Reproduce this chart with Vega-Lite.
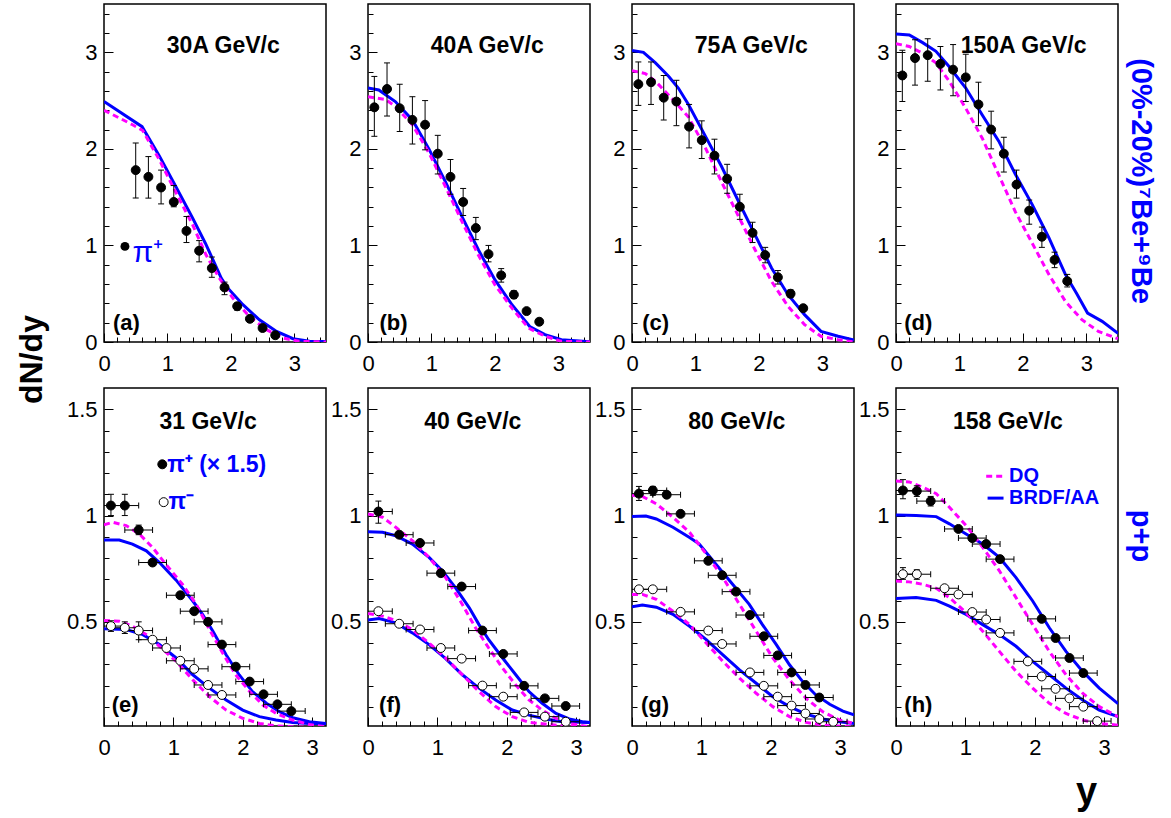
{
"$schema":"https://vega.github.io/schema/vega-lite/v6.json",
"padding":{"left":15,"top":3,"right":5,"bottom":5},
"title":{"text":"dN/dy","orient":"left","anchor":"middle","frame":"bounds","fontSize":32,"fontWeight":"bold","color":"black","offset":17,"dx":48},
"bounds":"flush",
"columns":4,
"spacing":{"row":46,"column":42},
"datasets":{
"pts":[
{"p":"a","s":"pip","x":0.5,"y":1.78,"ylo":1.49,"yhi":2.06},{"p":"a","s":"pip","x":0.7,"y":1.71,"ylo":1.49,"yhi":1.92},{"p":"a","s":"pip","x":0.9,"y":1.6,"ylo":1.43,"yhi":1.78},{"p":"a","s":"pip","x":1.1,"y":1.45,"ylo":1.4,"yhi":1.62},{"p":"a","s":"pip","x":1.3,"y":1.15,"ylo":1.03,"yhi":1.3},{"p":"a","s":"pip","x":1.5,"y":0.945,"ylo":0.83,"yhi":1.05},{"p":"a","s":"pip","x":1.7,"y":0.765,"ylo":0.67,"yhi":0.88},{"p":"a","s":"pip","x":1.9,"y":0.565,"ylo":0.49,"yhi":0.62},{"p":"a","s":"pip","x":2.1,"y":0.37,"ylo":0.33,"yhi":0.4},{"p":"a","s":"pip","x":2.3,"y":0.24,"ylo":0.22,"yhi":0.26},{"p":"a","s":"pip","x":2.5,"y":0.145,"ylo":0.13,"yhi":0.16},{"p":"a","s":"pip","x":2.7,"y":0.07,"ylo":0.06,"yhi":0.08},
{"p":"b","s":"pip","x":0.1,"y":2.43,"ylo":2.13,"yhi":2.75},{"p":"b","s":"pip","x":0.3,"y":2.62,"ylo":2.34,"yhi":2.89},{"p":"b","s":"pip","x":0.5,"y":2.42,"ylo":2.18,"yhi":2.67},{"p":"b","s":"pip","x":0.7,"y":2.3,"ylo":2.05,"yhi":2.54},{"p":"b","s":"pip","x":0.9,"y":2.25,"ylo":1.99,"yhi":2.5},{"p":"b","s":"pip","x":1.1,"y":1.95,"ylo":1.74,"yhi":2.14},{"p":"b","s":"pip","x":1.3,"y":1.71,"ylo":1.53,"yhi":1.89},{"p":"b","s":"pip","x":1.5,"y":1.45,"ylo":1.31,"yhi":1.59},{"p":"b","s":"pip","x":1.7,"y":1.18,"ylo":1.06,"yhi":1.29},{"p":"b","s":"pip","x":1.9,"y":0.91,"ylo":0.83,"yhi":1.0},{"p":"b","s":"pip","x":2.1,"y":0.69,"ylo":0.62,"yhi":0.76},{"p":"b","s":"pip","x":2.3,"y":0.49,"ylo":0.45,"yhi":0.53},{"p":"b","s":"pip","x":2.5,"y":0.32,"ylo":0.3,"yhi":0.34},{"p":"b","s":"pip","x":2.7,"y":0.21,"ylo":0.2,"yhi":0.22},
{"p":"c","s":"pip","x":0.1,"y":2.67,"ylo":2.45,"yhi":2.9},{"p":"c","s":"pip","x":0.3,"y":2.69,"ylo":2.46,"yhi":2.9},{"p":"c","s":"pip","x":0.5,"y":2.53,"ylo":2.3,"yhi":2.76},{"p":"c","s":"pip","x":0.7,"y":2.49,"ylo":2.24,"yhi":2.71},{"p":"c","s":"pip","x":0.9,"y":2.23,"ylo":2.01,"yhi":2.46},{"p":"c","s":"pip","x":1.1,"y":2.09,"ylo":1.9,"yhi":2.29},{"p":"c","s":"pip","x":1.3,"y":1.93,"ylo":1.74,"yhi":2.1},{"p":"c","s":"pip","x":1.5,"y":1.69,"ylo":1.54,"yhi":1.84},{"p":"c","s":"pip","x":1.7,"y":1.4,"ylo":1.27,"yhi":1.53},{"p":"c","s":"pip","x":1.9,"y":1.13,"ylo":1.03,"yhi":1.24},{"p":"c","s":"pip","x":2.1,"y":0.9,"ylo":0.82,"yhi":0.98},{"p":"c","s":"pip","x":2.3,"y":0.67,"ylo":0.6,"yhi":0.74},{"p":"c","s":"pip","x":2.5,"y":0.5,"ylo":0.46,"yhi":0.54},{"p":"c","s":"pip","x":2.7,"y":0.35,"ylo":0.33,"yhi":0.37},
{"p":"d","s":"pip","x":0.1,"y":2.76,"ylo":2.49,"yhi":3.02},{"p":"d","s":"pip","x":0.3,"y":2.94,"ylo":2.66,"yhi":3.13},{"p":"d","s":"pip","x":0.5,"y":2.97,"ylo":2.7,"yhi":3.14},{"p":"d","s":"pip","x":0.7,"y":2.88,"ylo":2.61,"yhi":3.06},{"p":"d","s":"pip","x":0.9,"y":2.82,"ylo":2.55,"yhi":3.08},{"p":"d","s":"pip","x":1.1,"y":2.74,"ylo":2.49,"yhi":2.98},{"p":"d","s":"pip","x":1.3,"y":2.46,"ylo":2.24,"yhi":2.69},{"p":"d","s":"pip","x":1.5,"y":2.2,"ylo":2.0,"yhi":2.39},{"p":"d","s":"pip","x":1.7,"y":1.95,"ylo":1.76,"yhi":2.12},{"p":"d","s":"pip","x":1.9,"y":1.63,"ylo":1.49,"yhi":1.78},{"p":"d","s":"pip","x":2.1,"y":1.36,"ylo":1.22,"yhi":1.47},{"p":"d","s":"pip","x":2.3,"y":1.09,"ylo":0.98,"yhi":1.19},{"p":"d","s":"pip","x":2.5,"y":0.85,"ylo":0.77,"yhi":0.93},{"p":"d","s":"pip","x":2.7,"y":0.63,"ylo":0.57,"yhi":0.7},
{"p":"e","s":"pip","x":0.1,"y":1.047,"xlo":-0.1,"xhi":0.3,"ylo":1.0,"yhi":1.1},{"p":"e","s":"pip","x":0.3,"y":1.047,"xlo":0.1,"xhi":0.5,"ylo":1.0,"yhi":1.1},{"p":"e","s":"pip","x":0.5,"y":0.932,"xlo":0.3,"xhi":0.7,"ylo":0.91,"yhi":0.955},{"p":"e","s":"pip","x":0.7,"y":0.779,"xlo":0.5,"xhi":0.9},{"p":"e","s":"pip","x":1.1,"y":0.625,"xlo":0.9,"xhi":1.3},{"p":"e","s":"pip","x":1.3,"y":0.55,"xlo":1.1,"xhi":1.5},{"p":"e","s":"pip","x":1.5,"y":0.5,"xlo":1.3,"xhi":1.7},{"p":"e","s":"pip","x":1.7,"y":0.393,"xlo":1.5,"xhi":1.9},{"p":"e","s":"pip","x":1.9,"y":0.289,"xlo":1.7,"xhi":2.1},{"p":"e","s":"pip","x":2.1,"y":0.219,"xlo":1.9,"xhi":2.3},{"p":"e","s":"pip","x":2.3,"y":0.159,"xlo":2.1,"xhi":2.5},{"p":"e","s":"pip","x":2.5,"y":0.112,"xlo":2.3,"xhi":2.7},{"p":"e","s":"pip","x":2.7,"y":0.08,"xlo":2.5,"xhi":2.9},
{"p":"e","s":"pim","x":0.1,"y":0.48,"xlo":-0.1,"xhi":0.3,"ylo":0.455,"yhi":0.505},{"p":"e","s":"pim","x":0.3,"y":0.472,"xlo":0.1,"xhi":0.5,"ylo":0.445,"yhi":0.5},{"p":"e","s":"pim","x":0.5,"y":0.459,"xlo":0.3,"xhi":0.7,"ylo":0.416,"yhi":0.5},{"p":"e","s":"pim","x":0.7,"y":0.416,"xlo":0.5,"xhi":0.9},{"p":"e","s":"pim","x":0.9,"y":0.377,"xlo":0.7,"xhi":1.1},{"p":"e","s":"pim","x":1.1,"y":0.317,"xlo":0.9,"xhi":1.3},{"p":"e","s":"pim","x":1.3,"y":0.279,"xlo":1.1,"xhi":1.5},{"p":"e","s":"pim","x":1.5,"y":0.203,"xlo":1.3,"xhi":1.7},{"p":"e","s":"pim","x":1.7,"y":0.156,"xlo":1.5,"xhi":1.9},
{"p":"f","s":"pip","x":0.15,"y":1.019,"xlo":-0.05,"xhi":0.35,"ylo":0.964,"yhi":1.068},{"p":"f","s":"pip","x":0.45,"y":0.91,"xlo":0.25,"xhi":0.65},{"p":"f","s":"pip","x":0.75,"y":0.871,"xlo":0.55,"xhi":0.95},{"p":"f","s":"pip","x":1.05,"y":0.729,"xlo":0.85,"xhi":1.25},{"p":"f","s":"pip","x":1.35,"y":0.666,"xlo":1.15,"xhi":1.55},{"p":"f","s":"pip","x":1.65,"y":0.459,"xlo":1.45,"xhi":1.85},{"p":"f","s":"pip","x":1.95,"y":0.349,"xlo":1.75,"xhi":2.15},{"p":"f","s":"pip","x":2.25,"y":0.199,"xlo":2.05,"xhi":2.45},{"p":"f","s":"pip","x":2.55,"y":0.14,"xlo":2.35,"xhi":2.75},{"p":"f","s":"pip","x":2.85,"y":0.104,"xlo":2.65,"xhi":3.05},
{"p":"f","s":"pim","x":0.15,"y":0.55,"xlo":-0.05,"xhi":0.35},{"p":"f","s":"pim","x":0.45,"y":0.491,"xlo":0.25,"xhi":0.65},{"p":"f","s":"pim","x":0.75,"y":0.464,"xlo":0.55,"xhi":0.95},{"p":"f","s":"pim","x":1.05,"y":0.377,"xlo":0.85,"xhi":1.25},{"p":"f","s":"pim","x":1.35,"y":0.327,"xlo":1.15,"xhi":1.55},{"p":"f","s":"pim","x":1.65,"y":0.2,"xlo":1.45,"xhi":1.85},{"p":"f","s":"pim","x":1.95,"y":0.148,"xlo":1.75,"xhi":2.15},{"p":"f","s":"pim","x":2.25,"y":0.074,"xlo":2.05,"xhi":2.45},{"p":"f","s":"pim","x":2.55,"y":0.054,"xlo":2.35,"xhi":2.75},{"p":"f","s":"pim","x":2.85,"y":0.03,"xlo":2.65,"xhi":3.05},
{"p":"g","s":"pip","x":0.1,"y":1.103,"xlo":-0.1,"xhi":0.3,"ylo":1.071,"yhi":1.137},{"p":"g","s":"pip","x":0.3,"y":1.118,"xlo":0.1,"xhi":0.5,"ylo":1.095,"yhi":1.137},{"p":"g","s":"pip","x":0.5,"y":1.098,"xlo":0.3,"xhi":0.7},{"p":"g","s":"pip","x":0.7,"y":1.008,"xlo":0.5,"xhi":0.9},{"p":"g","s":"pip","x":1.1,"y":0.787,"xlo":0.9,"xhi":1.3},{"p":"g","s":"pip","x":1.3,"y":0.719,"xlo":1.1,"xhi":1.5},{"p":"g","s":"pip","x":1.5,"y":0.642,"xlo":1.3,"xhi":1.7},{"p":"g","s":"pip","x":1.7,"y":0.532,"xlo":1.5,"xhi":1.9},{"p":"g","s":"pip","x":1.9,"y":0.432,"xlo":1.7,"xhi":2.1},{"p":"g","s":"pip","x":2.1,"y":0.342,"xlo":1.9,"xhi":2.3},{"p":"g","s":"pip","x":2.3,"y":0.262,"xlo":2.1,"xhi":2.5},{"p":"g","s":"pip","x":2.5,"y":0.203,"xlo":2.3,"xhi":2.7},{"p":"g","s":"pip","x":2.7,"y":0.144,"xlo":2.5,"xhi":2.9},
{"p":"g","s":"pim","x":0.1,"y":0.653,"xlo":-0.1,"xhi":0.3},{"p":"g","s":"pim","x":0.3,"y":0.653,"xlo":0.1,"xhi":0.5},{"p":"g","s":"pim","x":0.7,"y":0.547,"xlo":0.5,"xhi":0.9},{"p":"g","s":"pim","x":1.1,"y":0.459,"xlo":0.9,"xhi":1.3},{"p":"g","s":"pim","x":1.3,"y":0.396,"xlo":1.1,"xhi":1.5},{"p":"g","s":"pim","x":1.7,"y":0.262,"xlo":1.5,"xhi":1.9},{"p":"g","s":"pim","x":1.9,"y":0.199,"xlo":1.7,"xhi":2.1},{"p":"g","s":"pim","x":2.1,"y":0.148,"xlo":1.9,"xhi":2.3},{"p":"g","s":"pim","x":2.3,"y":0.106,"xlo":2.1,"xhi":2.5},{"p":"g","s":"pim","x":2.5,"y":0.069,"xlo":2.3,"xhi":2.7},{"p":"g","s":"pim","x":2.7,"y":0.043,"xlo":2.5,"xhi":2.9},{"p":"g","s":"pim","x":2.9,"y":0.03,"xlo":2.7,"xhi":3.1},
{"p":"h","s":"pip","x":0.1,"y":1.118,"xlo":-0.1,"xhi":0.3,"ylo":1.079,"yhi":1.169},{"p":"h","s":"pip","x":0.3,"y":1.115,"xlo":0.1,"xhi":0.5,"ylo":1.09,"yhi":1.14},{"p":"h","s":"pip","x":0.5,"y":1.068,"xlo":0.3,"xhi":0.7,"ylo":1.045,"yhi":1.09},{"p":"h","s":"pip","x":0.9,"y":0.937,"xlo":0.7,"xhi":1.1},{"p":"h","s":"pip","x":1.1,"y":0.894,"xlo":0.9,"xhi":1.3},{"p":"h","s":"pip","x":1.3,"y":0.866,"xlo":1.1,"xhi":1.5},{"p":"h","s":"pip","x":1.5,"y":0.795,"xlo":1.3,"xhi":1.7},{"p":"h","s":"pip","x":2.1,"y":0.514,"xlo":1.9,"xhi":2.3},{"p":"h","s":"pip","x":2.3,"y":0.424,"xlo":2.1,"xhi":2.5},{"p":"h","s":"pip","x":2.5,"y":0.33,"xlo":2.3,"xhi":2.7},{"p":"h","s":"pip","x":2.7,"y":0.259,"xlo":2.5,"xhi":2.9},
{"p":"h","s":"pim","x":0.1,"y":0.724,"xlo":-0.1,"xhi":0.3,"ylo":0.7,"yhi":0.755},{"p":"h","s":"pim","x":0.3,"y":0.724,"xlo":0.1,"xhi":0.5,"ylo":0.7,"yhi":0.745},{"p":"h","s":"pim","x":0.7,"y":0.658,"xlo":0.5,"xhi":0.9},{"p":"h","s":"pim","x":0.9,"y":0.629,"xlo":0.7,"xhi":1.1},{"p":"h","s":"pim","x":1.1,"y":0.546,"xlo":0.9,"xhi":1.3},{"p":"h","s":"pim","x":1.3,"y":0.511,"xlo":1.1,"xhi":1.5},{"p":"h","s":"pim","x":1.5,"y":0.448,"xlo":1.3,"xhi":1.7},{"p":"h","s":"pim","x":1.9,"y":0.314,"xlo":1.7,"xhi":2.1},{"p":"h","s":"pim","x":2.1,"y":0.243,"xlo":1.9,"xhi":2.3},{"p":"h","s":"pim","x":2.3,"y":0.185,"xlo":2.1,"xhi":2.5},{"p":"h","s":"pim","x":2.5,"y":0.14,"xlo":2.3,"xhi":2.7},{"p":"h","s":"pim","x":2.7,"y":0.101,"xlo":2.5,"xhi":2.9},{"p":"h","s":"pim","x":2.9,"y":0.033,"xlo":2.7,"xhi":3.1}
],
"crv":[
{"p":"a","m":"BR","s":"pip","x":0,"y":2.49},{"p":"a","m":"BR","s":"pip","x":0.6,"y":2.23},{"p":"a","m":"BR","s":"pip","x":0.87,"y":1.93},{"p":"a","m":"BR","s":"pip","x":1.14,"y":1.6},{"p":"a","m":"BR","s":"pip","x":1.4,"y":1.28},{"p":"a","m":"BR","s":"pip","x":1.6,"y":1.02},{"p":"a","m":"BR","s":"pip","x":1.74,"y":0.82},{"p":"a","m":"BR","s":"pip","x":1.85,"y":0.66},{"p":"a","m":"BR","s":"pip","x":1.95,"y":0.56},{"p":"a","m":"BR","s":"pip","x":2.19,"y":0.386},{"p":"a","m":"BR","s":"pip","x":2.45,"y":0.23},{"p":"a","m":"BR","s":"pip","x":2.72,"y":0.11},{"p":"a","m":"BR","s":"pip","x":2.98,"y":0.034},{"p":"a","m":"BR","s":"pip","x":3.24,"y":0.007},{"p":"a","m":"BR","s":"pip","x":3.5,"y":0.005},
{"p":"a","m":"DQ","s":"pip","x":0,"y":2.4},{"p":"a","m":"DQ","s":"pip","x":0.45,"y":2.25},{"p":"a","m":"DQ","s":"pip","x":0.61,"y":2.19},{"p":"a","m":"DQ","s":"pip","x":0.87,"y":1.89},{"p":"a","m":"DQ","s":"pip","x":1.14,"y":1.54},{"p":"a","m":"DQ","s":"pip","x":1.4,"y":1.21},{"p":"a","m":"DQ","s":"pip","x":1.61,"y":0.9},{"p":"a","m":"DQ","s":"pip","x":1.82,"y":0.66},{"p":"a","m":"DQ","s":"pip","x":2.03,"y":0.455},{"p":"a","m":"DQ","s":"pip","x":2.29,"y":0.265},{"p":"a","m":"DQ","s":"pip","x":2.56,"y":0.128},{"p":"a","m":"DQ","s":"pip","x":2.82,"y":0.041},{"p":"a","m":"DQ","s":"pip","x":3.08,"y":0.007},{"p":"a","m":"DQ","s":"pip","x":3.5,"y":0},
{"p":"b","m":"BR","s":"pip","x":0,"y":2.63},{"p":"b","m":"BR","s":"pip","x":0.17,"y":2.61},{"p":"b","m":"BR","s":"pip","x":0.43,"y":2.49},{"p":"b","m":"BR","s":"pip","x":0.7,"y":2.3},{"p":"b","m":"BR","s":"pip","x":0.96,"y":2.0},{"p":"b","m":"BR","s":"pip","x":1.22,"y":1.66},{"p":"b","m":"BR","s":"pip","x":1.48,"y":1.3},{"p":"b","m":"BR","s":"pip","x":1.74,"y":0.955},{"p":"b","m":"BR","s":"pip","x":2.0,"y":0.645},{"p":"b","m":"BR","s":"pip","x":2.27,"y":0.386},{"p":"b","m":"BR","s":"pip","x":2.55,"y":0.16},{"p":"b","m":"BR","s":"pip","x":2.79,"y":0.076},{"p":"b","m":"BR","s":"pip","x":3.05,"y":0.024},{"p":"b","m":"BR","s":"pip","x":3.5,"y":0.003},
{"p":"b","m":"DQ","s":"pip","x":0,"y":2.54},{"p":"b","m":"DQ","s":"pip","x":0.28,"y":2.51},{"p":"b","m":"DQ","s":"pip","x":0.43,"y":2.44},{"p":"b","m":"DQ","s":"pip","x":0.7,"y":2.25},{"p":"b","m":"DQ","s":"pip","x":0.96,"y":1.96},{"p":"b","m":"DQ","s":"pip","x":1.22,"y":1.61},{"p":"b","m":"DQ","s":"pip","x":1.48,"y":1.25},{"p":"b","m":"DQ","s":"pip","x":1.74,"y":0.9},{"p":"b","m":"DQ","s":"pip","x":2.0,"y":0.593},{"p":"b","m":"DQ","s":"pip","x":2.27,"y":0.35},{"p":"b","m":"DQ","s":"pip","x":2.53,"y":0.145},{"p":"b","m":"DQ","s":"pip","x":2.79,"y":0.06},{"p":"b","m":"DQ","s":"pip","x":3.05,"y":0.007},{"p":"b","m":"DQ","s":"pip","x":3.5,"y":0},
{"p":"c","m":"BR","s":"pip","x":0,"y":3.02},{"p":"c","m":"BR","s":"pip","x":0.18,"y":3.0},{"p":"c","m":"BR","s":"pip","x":0.37,"y":2.89},{"p":"c","m":"BR","s":"pip","x":0.58,"y":2.75},{"p":"c","m":"BR","s":"pip","x":0.73,"y":2.63},{"p":"c","m":"BR","s":"pip","x":0.89,"y":2.46},{"p":"c","m":"BR","s":"pip","x":1.15,"y":2.14},{"p":"c","m":"BR","s":"pip","x":1.41,"y":1.82},{"p":"c","m":"BR","s":"pip","x":1.68,"y":1.455},{"p":"c","m":"BR","s":"pip","x":1.94,"y":1.11},{"p":"c","m":"BR","s":"pip","x":2.2,"y":0.766},{"p":"c","m":"BR","s":"pip","x":2.46,"y":0.49},{"p":"c","m":"BR","s":"pip","x":2.72,"y":0.283},{"p":"c","m":"BR","s":"pip","x":2.98,"y":0.11},{"p":"c","m":"BR","s":"pip","x":3.25,"y":0.059},{"p":"c","m":"BR","s":"pip","x":3.5,"y":0.02},
{"p":"c","m":"DQ","s":"pip","x":0,"y":2.81},{"p":"c","m":"DQ","s":"pip","x":0.21,"y":2.78},{"p":"c","m":"DQ","s":"pip","x":0.37,"y":2.7},{"p":"c","m":"DQ","s":"pip","x":0.63,"y":2.52},{"p":"c","m":"DQ","s":"pip","x":0.89,"y":2.33},{"p":"c","m":"DQ","s":"pip","x":1.15,"y":2.02},{"p":"c","m":"DQ","s":"pip","x":1.41,"y":1.66},{"p":"c","m":"DQ","s":"pip","x":1.68,"y":1.3},{"p":"c","m":"DQ","s":"pip","x":1.94,"y":0.955},{"p":"c","m":"DQ","s":"pip","x":2.2,"y":0.628},{"p":"c","m":"DQ","s":"pip","x":2.46,"y":0.369},{"p":"c","m":"DQ","s":"pip","x":2.72,"y":0.18},{"p":"c","m":"DQ","s":"pip","x":2.98,"y":0.059},{"p":"c","m":"DQ","s":"pip","x":3.25,"y":0.024},{"p":"c","m":"DQ","s":"pip","x":3.5,"y":0},
{"p":"d","m":"BR","s":"pip","x":0,"y":3.19},{"p":"d","m":"BR","s":"pip","x":0.21,"y":3.18},{"p":"d","m":"BR","s":"pip","x":0.42,"y":3.1},{"p":"d","m":"BR","s":"pip","x":0.63,"y":3.01},{"p":"d","m":"BR","s":"pip","x":0.84,"y":2.85},{"p":"d","m":"BR","s":"pip","x":1.1,"y":2.63},{"p":"d","m":"BR","s":"pip","x":1.36,"y":2.35},{"p":"d","m":"BR","s":"pip","x":1.62,"y":2.08},{"p":"d","m":"BR","s":"pip","x":1.88,"y":1.74},{"p":"d","m":"BR","s":"pip","x":2.15,"y":1.42},{"p":"d","m":"BR","s":"pip","x":2.41,"y":1.08},{"p":"d","m":"BR","s":"pip","x":2.67,"y":0.7},{"p":"d","m":"BR","s":"pip","x":2.85,"y":0.5},{"p":"d","m":"BR","s":"pip","x":3.02,"y":0.3},{"p":"d","m":"BR","s":"pip","x":3.25,"y":0.214},{"p":"d","m":"BR","s":"pip","x":3.5,"y":0.09},
{"p":"d","m":"DQ","s":"pip","x":0,"y":3.09},{"p":"d","m":"DQ","s":"pip","x":0.21,"y":3.06},{"p":"d","m":"DQ","s":"pip","x":0.42,"y":2.99},{"p":"d","m":"DQ","s":"pip","x":0.63,"y":2.89},{"p":"d","m":"DQ","s":"pip","x":0.84,"y":2.7},{"p":"d","m":"DQ","s":"pip","x":1.1,"y":2.42},{"p":"d","m":"DQ","s":"pip","x":1.36,"y":2.11},{"p":"d","m":"DQ","s":"pip","x":1.62,"y":1.73},{"p":"d","m":"DQ","s":"pip","x":1.88,"y":1.35},{"p":"d","m":"DQ","s":"pip","x":2.15,"y":1.02},{"p":"d","m":"DQ","s":"pip","x":2.41,"y":0.7},{"p":"d","m":"DQ","s":"pip","x":2.67,"y":0.421},{"p":"d","m":"DQ","s":"pip","x":2.93,"y":0.231},{"p":"d","m":"DQ","s":"pip","x":3.19,"y":0.11},{"p":"d","m":"DQ","s":"pip","x":3.5,"y":0.034},
{"p":"e","m":"BR","s":"pip","x":0,"y":0.885},{"p":"e","m":"BR","s":"pip","x":0.22,"y":0.885},{"p":"e","m":"BR","s":"pip","x":0.41,"y":0.866},{"p":"e","m":"BR","s":"pip","x":0.61,"y":0.834},{"p":"e","m":"BR","s":"pip","x":0.8,"y":0.779},{"p":"e","m":"BR","s":"pip","x":1.04,"y":0.696},{"p":"e","m":"BR","s":"pip","x":1.28,"y":0.598},{"p":"e","m":"BR","s":"pip","x":1.42,"y":0.535},{"p":"e","m":"BR","s":"pip","x":1.57,"y":0.456},{"p":"e","m":"BR","s":"pip","x":1.76,"y":0.345},{"p":"e","m":"BR","s":"pip","x":1.95,"y":0.25},{"p":"e","m":"BR","s":"pip","x":2.14,"y":0.172},{"p":"e","m":"BR","s":"pip","x":2.34,"y":0.117},{"p":"e","m":"BR","s":"pip","x":2.53,"y":0.077},{"p":"e","m":"BR","s":"pip","x":2.72,"y":0.049},{"p":"e","m":"BR","s":"pip","x":2.96,"y":0.03},{"p":"e","m":"BR","s":"pip","x":3.2,"y":0.022},
{"p":"e","m":"DQ","s":"pip","x":0,"y":0.957},{"p":"e","m":"DQ","s":"pip","x":0.125,"y":0.968},{"p":"e","m":"DQ","s":"pip","x":0.32,"y":0.953},{"p":"e","m":"DQ","s":"pip","x":0.51,"y":0.913},{"p":"e","m":"DQ","s":"pip","x":0.7,"y":0.85},{"p":"e","m":"DQ","s":"pip","x":0.89,"y":0.771},{"p":"e","m":"DQ","s":"pip","x":1.13,"y":0.677},{"p":"e","m":"DQ","s":"pip","x":1.33,"y":0.582},{"p":"e","m":"DQ","s":"pip","x":1.52,"y":0.464},{"p":"e","m":"DQ","s":"pip","x":1.71,"y":0.353},{"p":"e","m":"DQ","s":"pip","x":1.9,"y":0.25},{"p":"e","m":"DQ","s":"pip","x":2.1,"y":0.172},{"p":"e","m":"DQ","s":"pip","x":2.29,"y":0.109},{"p":"e","m":"DQ","s":"pip","x":2.48,"y":0.069},{"p":"e","m":"DQ","s":"pip","x":2.72,"y":0.038},{"p":"e","m":"DQ","s":"pip","x":2.96,"y":0.017},{"p":"e","m":"DQ","s":"pip","x":3.2,"y":0.006},
{"p":"e","m":"BR","s":"pim","x":0,"y":0.468},{"p":"e","m":"BR","s":"pim","x":0.32,"y":0.464},{"p":"e","m":"BR","s":"pim","x":0.56,"y":0.44},{"p":"e","m":"BR","s":"pim","x":0.8,"y":0.393},{"p":"e","m":"BR","s":"pim","x":1.04,"y":0.33},{"p":"e","m":"BR","s":"pim","x":1.28,"y":0.251},{"p":"e","m":"BR","s":"pim","x":1.52,"y":0.188},{"p":"e","m":"BR","s":"pim","x":1.76,"y":0.132},{"p":"e","m":"BR","s":"pim","x":2.0,"y":0.085},{"p":"e","m":"BR","s":"pim","x":2.24,"y":0.054},{"p":"e","m":"BR","s":"pim","x":2.48,"y":0.038},{"p":"e","m":"BR","s":"pim","x":2.72,"y":0.027},{"p":"e","m":"BR","s":"pim","x":2.96,"y":0.022},{"p":"e","m":"BR","s":"pim","x":3.2,"y":0.022},
{"p":"e","m":"DQ","s":"pim","x":0,"y":0.506},{"p":"e","m":"DQ","s":"pim","x":0.22,"y":0.503},{"p":"e","m":"DQ","s":"pim","x":0.41,"y":0.48},{"p":"e","m":"DQ","s":"pim","x":0.61,"y":0.44},{"p":"e","m":"DQ","s":"pim","x":0.8,"y":0.385},{"p":"e","m":"DQ","s":"pim","x":1.04,"y":0.314},{"p":"e","m":"DQ","s":"pim","x":1.28,"y":0.227},{"p":"e","m":"DQ","s":"pim","x":1.52,"y":0.148},{"p":"e","m":"DQ","s":"pim","x":1.76,"y":0.085},{"p":"e","m":"DQ","s":"pim","x":2.0,"y":0.046},{"p":"e","m":"DQ","s":"pim","x":2.24,"y":0.022},{"p":"e","m":"DQ","s":"pim","x":2.48,"y":0.011},{"p":"e","m":"DQ","s":"pim","x":2.72,"y":0.006},{"p":"e","m":"DQ","s":"pim","x":3.2,"y":0.003},
{"p":"f","m":"BR","s":"pip","x":0,"y":0.924},{"p":"f","m":"BR","s":"pip","x":0.21,"y":0.921},{"p":"f","m":"BR","s":"pip","x":0.4,"y":0.905},{"p":"f","m":"BR","s":"pip","x":0.64,"y":0.866},{"p":"f","m":"BR","s":"pip","x":0.88,"y":0.803},{"p":"f","m":"BR","s":"pip","x":1.07,"y":0.74},{"p":"f","m":"BR","s":"pip","x":1.26,"y":0.661},{"p":"f","m":"BR","s":"pip","x":1.46,"y":0.566},{"p":"f","m":"BR","s":"pip","x":1.6,"y":0.487},{"p":"f","m":"BR","s":"pip","x":1.74,"y":0.416},{"p":"f","m":"BR","s":"pip","x":1.94,"y":0.33},{"p":"f","m":"BR","s":"pip","x":2.13,"y":0.251},{"p":"f","m":"BR","s":"pip","x":2.32,"y":0.172},{"p":"f","m":"BR","s":"pip","x":2.51,"y":0.117},{"p":"f","m":"BR","s":"pip","x":2.71,"y":0.069},{"p":"f","m":"BR","s":"pip","x":2.9,"y":0.043},{"p":"f","m":"BR","s":"pip","x":3.09,"y":0.03},{"p":"f","m":"BR","s":"pip","x":3.2,"y":0.027},
{"p":"f","m":"DQ","s":"pip","x":0,"y":1.008},{"p":"f","m":"DQ","s":"pip","x":0.21,"y":0.992},{"p":"f","m":"DQ","s":"pip","x":0.4,"y":0.945},{"p":"f","m":"DQ","s":"pip","x":0.64,"y":0.882},{"p":"f","m":"DQ","s":"pip","x":0.88,"y":0.803},{"p":"f","m":"DQ","s":"pip","x":1.12,"y":0.708},{"p":"f","m":"DQ","s":"pip","x":1.36,"y":0.582},{"p":"f","m":"DQ","s":"pip","x":1.55,"y":0.472},{"p":"f","m":"DQ","s":"pip","x":1.74,"y":0.377},{"p":"f","m":"DQ","s":"pip","x":1.94,"y":0.282},{"p":"f","m":"DQ","s":"pip","x":2.13,"y":0.203},{"p":"f","m":"DQ","s":"pip","x":2.32,"y":0.133},{"p":"f","m":"DQ","s":"pip","x":2.51,"y":0.085},{"p":"f","m":"DQ","s":"pip","x":2.71,"y":0.046},{"p":"f","m":"DQ","s":"pip","x":2.9,"y":0.022},{"p":"f","m":"DQ","s":"pip","x":3.2,"y":0.006},
{"p":"f","m":"BR","s":"pim","x":0,"y":0.508},{"p":"f","m":"BR","s":"pim","x":0.16,"y":0.516},{"p":"f","m":"BR","s":"pim","x":0.4,"y":0.495},{"p":"f","m":"BR","s":"pim","x":0.64,"y":0.448},{"p":"f","m":"BR","s":"pim","x":0.88,"y":0.393},{"p":"f","m":"BR","s":"pim","x":1.12,"y":0.327},{"p":"f","m":"BR","s":"pim","x":1.36,"y":0.251},{"p":"f","m":"BR","s":"pim","x":1.6,"y":0.188},{"p":"f","m":"BR","s":"pim","x":1.84,"y":0.132},{"p":"f","m":"BR","s":"pim","x":2.08,"y":0.085},{"p":"f","m":"BR","s":"pim","x":2.32,"y":0.061},{"p":"f","m":"BR","s":"pim","x":2.56,"y":0.043},{"p":"f","m":"BR","s":"pim","x":2.8,"y":0.03},{"p":"f","m":"BR","s":"pim","x":3.2,"y":0.027},
{"p":"f","m":"DQ","s":"pim","x":0,"y":0.539},{"p":"f","m":"DQ","s":"pim","x":0.21,"y":0.527},{"p":"f","m":"DQ","s":"pim","x":0.4,"y":0.506},{"p":"f","m":"DQ","s":"pim","x":0.64,"y":0.464},{"p":"f","m":"DQ","s":"pim","x":0.88,"y":0.4},{"p":"f","m":"DQ","s":"pim","x":1.12,"y":0.33},{"p":"f","m":"DQ","s":"pim","x":1.36,"y":0.251},{"p":"f","m":"DQ","s":"pim","x":1.6,"y":0.172},{"p":"f","m":"DQ","s":"pim","x":1.84,"y":0.101},{"p":"f","m":"DQ","s":"pim","x":2.08,"y":0.054},{"p":"f","m":"DQ","s":"pim","x":2.32,"y":0.027},{"p":"f","m":"DQ","s":"pim","x":2.8,"y":0.011},{"p":"f","m":"DQ","s":"pim","x":3.2,"y":0.006},
{"p":"g","m":"BR","s":"pip","x":0,"y":0.995},{"p":"g","m":"BR","s":"pip","x":0.2,"y":0.998},{"p":"g","m":"BR","s":"pip","x":0.35,"y":0.984},{"p":"g","m":"BR","s":"pip","x":0.59,"y":0.945},{"p":"g","m":"BR","s":"pip","x":0.83,"y":0.897},{"p":"g","m":"BR","s":"pip","x":0.97,"y":0.866},{"p":"g","m":"BR","s":"pip","x":1.21,"y":0.771},{"p":"g","m":"BR","s":"pip","x":1.45,"y":0.677},{"p":"g","m":"BR","s":"pip","x":1.69,"y":0.582},{"p":"g","m":"BR","s":"pip","x":1.88,"y":0.487},{"p":"g","m":"BR","s":"pip","x":2.08,"y":0.393},{"p":"g","m":"BR","s":"pip","x":2.27,"y":0.298},{"p":"g","m":"BR","s":"pip","x":2.46,"y":0.219},{"p":"g","m":"BR","s":"pip","x":2.65,"y":0.156},{"p":"g","m":"BR","s":"pip","x":2.85,"y":0.112},{"p":"g","m":"BR","s":"pip","x":3.04,"y":0.08},{"p":"g","m":"BR","s":"pip","x":3.2,"y":0.062},
{"p":"g","m":"DQ","s":"pip","x":0,"y":1.095},{"p":"g","m":"DQ","s":"pip","x":0.15,"y":1.09},{"p":"g","m":"DQ","s":"pip","x":0.35,"y":1.055},{"p":"g","m":"DQ","s":"pip","x":0.59,"y":0.992},{"p":"g","m":"DQ","s":"pip","x":0.83,"y":0.921},{"p":"g","m":"DQ","s":"pip","x":1.07,"y":0.819},{"p":"g","m":"DQ","s":"pip","x":1.31,"y":0.708},{"p":"g","m":"DQ","s":"pip","x":1.55,"y":0.582},{"p":"g","m":"DQ","s":"pip","x":1.79,"y":0.456},{"p":"g","m":"DQ","s":"pip","x":2.03,"y":0.33},{"p":"g","m":"DQ","s":"pip","x":2.27,"y":0.227},{"p":"g","m":"DQ","s":"pip","x":2.51,"y":0.14},{"p":"g","m":"DQ","s":"pip","x":2.75,"y":0.077},{"p":"g","m":"DQ","s":"pip","x":2.99,"y":0.038},{"p":"g","m":"DQ","s":"pip","x":3.2,"y":0.022},
{"p":"g","m":"BR","s":"pim","x":0,"y":0.571},{"p":"g","m":"BR","s":"pim","x":0.15,"y":0.579},{"p":"g","m":"BR","s":"pim","x":0.35,"y":0.569},{"p":"g","m":"BR","s":"pim","x":0.59,"y":0.535},{"p":"g","m":"BR","s":"pim","x":0.83,"y":0.479},{"p":"g","m":"BR","s":"pim","x":1.07,"y":0.416},{"p":"g","m":"BR","s":"pim","x":1.31,"y":0.345},{"p":"g","m":"BR","s":"pim","x":1.55,"y":0.274},{"p":"g","m":"BR","s":"pim","x":1.79,"y":0.211},{"p":"g","m":"BR","s":"pim","x":2.03,"y":0.148},{"p":"g","m":"BR","s":"pim","x":2.27,"y":0.101},{"p":"g","m":"BR","s":"pim","x":2.51,"y":0.066},{"p":"g","m":"BR","s":"pim","x":2.75,"y":0.043},{"p":"g","m":"BR","s":"pim","x":2.99,"y":0.03},{"p":"g","m":"BR","s":"pim","x":3.2,"y":0.022},
{"p":"g","m":"DQ","s":"pim","x":0,"y":0.629},{"p":"g","m":"DQ","s":"pim","x":0.15,"y":0.629},{"p":"g","m":"DQ","s":"pim","x":0.35,"y":0.606},{"p":"g","m":"DQ","s":"pim","x":0.59,"y":0.55},{"p":"g","m":"DQ","s":"pim","x":0.83,"y":0.487},{"p":"g","m":"DQ","s":"pim","x":1.07,"y":0.4},{"p":"g","m":"DQ","s":"pim","x":1.31,"y":0.314},{"p":"g","m":"DQ","s":"pim","x":1.55,"y":0.235},{"p":"g","m":"DQ","s":"pim","x":1.79,"y":0.164},{"p":"g","m":"DQ","s":"pim","x":2.03,"y":0.101},{"p":"g","m":"DQ","s":"pim","x":2.27,"y":0.054},{"p":"g","m":"DQ","s":"pim","x":2.51,"y":0.027},{"p":"g","m":"DQ","s":"pim","x":2.75,"y":0.014},{"p":"g","m":"DQ","s":"pim","x":3.2,"y":0.006},
{"p":"h","m":"BR","s":"pip","x":0,"y":1.003},{"p":"h","m":"BR","s":"pip","x":0.29,"y":1.0},{"p":"h","m":"BR","s":"pip","x":0.58,"y":0.995},{"p":"h","m":"BR","s":"pip","x":0.77,"y":0.961},{"p":"h","m":"BR","s":"pip","x":1.01,"y":0.913},{"p":"h","m":"BR","s":"pip","x":1.25,"y":0.866},{"p":"h","m":"BR","s":"pip","x":1.49,"y":0.803},{"p":"h","m":"BR","s":"pip","x":1.73,"y":0.708},{"p":"h","m":"BR","s":"pip","x":1.97,"y":0.598},{"p":"h","m":"BR","s":"pip","x":2.21,"y":0.472},{"p":"h","m":"BR","s":"pip","x":2.45,"y":0.361},{"p":"h","m":"BR","s":"pip","x":2.69,"y":0.267},{"p":"h","m":"BR","s":"pip","x":2.93,"y":0.188},{"p":"h","m":"BR","s":"pip","x":3.2,"y":0.115},
{"p":"h","m":"DQ","s":"pip","x":0,"y":1.162},{"p":"h","m":"DQ","s":"pip","x":0.19,"y":1.158},{"p":"h","m":"DQ","s":"pip","x":0.38,"y":1.134},{"p":"h","m":"DQ","s":"pip","x":0.58,"y":1.103},{"p":"h","m":"DQ","s":"pip","x":0.77,"y":1.039},{"p":"h","m":"DQ","s":"pip","x":1.01,"y":0.953},{"p":"h","m":"DQ","s":"pip","x":1.25,"y":0.85},{"p":"h","m":"DQ","s":"pip","x":1.49,"y":0.74},{"p":"h","m":"DQ","s":"pip","x":1.73,"y":0.614},{"p":"h","m":"DQ","s":"pip","x":1.97,"y":0.487},{"p":"h","m":"DQ","s":"pip","x":2.21,"y":0.361},{"p":"h","m":"DQ","s":"pip","x":2.45,"y":0.251},{"p":"h","m":"DQ","s":"pip","x":2.69,"y":0.164},{"p":"h","m":"DQ","s":"pip","x":2.93,"y":0.101},{"p":"h","m":"DQ","s":"pip","x":3.2,"y":0.054},
{"p":"h","m":"BR","s":"pim","x":0,"y":0.61},{"p":"h","m":"BR","s":"pim","x":0.29,"y":0.614},{"p":"h","m":"BR","s":"pim","x":0.58,"y":0.601},{"p":"h","m":"BR","s":"pim","x":0.77,"y":0.574},{"p":"h","m":"BR","s":"pim","x":1.01,"y":0.535},{"p":"h","m":"BR","s":"pim","x":1.25,"y":0.487},{"p":"h","m":"BR","s":"pim","x":1.49,"y":0.44},{"p":"h","m":"BR","s":"pim","x":1.73,"y":0.385},{"p":"h","m":"BR","s":"pim","x":1.97,"y":0.314},{"p":"h","m":"BR","s":"pim","x":2.21,"y":0.251},{"p":"h","m":"BR","s":"pim","x":2.45,"y":0.188},{"p":"h","m":"BR","s":"pim","x":2.69,"y":0.132},{"p":"h","m":"BR","s":"pim","x":2.93,"y":0.085},{"p":"h","m":"BR","s":"pim","x":3.2,"y":0.054},
{"p":"h","m":"DQ","s":"pim","x":0,"y":0.692},{"p":"h","m":"DQ","s":"pim","x":0.19,"y":0.688},{"p":"h","m":"DQ","s":"pim","x":0.38,"y":0.677},{"p":"h","m":"DQ","s":"pim","x":0.58,"y":0.658},{"p":"h","m":"DQ","s":"pim","x":0.77,"y":0.614},{"p":"h","m":"DQ","s":"pim","x":1.01,"y":0.543},{"p":"h","m":"DQ","s":"pim","x":1.25,"y":0.456},{"p":"h","m":"DQ","s":"pim","x":1.49,"y":0.361},{"p":"h","m":"DQ","s":"pim","x":1.73,"y":0.267},{"p":"h","m":"DQ","s":"pim","x":1.97,"y":0.188},{"p":"h","m":"DQ","s":"pim","x":2.21,"y":0.117},{"p":"h","m":"DQ","s":"pim","x":2.45,"y":0.069},{"p":"h","m":"DQ","s":"pim","x":2.69,"y":0.038},{"p":"h","m":"DQ","s":"pim","x":2.93,"y":0.022},{"p":"h","m":"DQ","s":"pim","x":3.2,"y":0.014}
]
},
"concat":[
{"width":222,"height":338,"resolve":{"axis":{"x":"independent","y":"independent"}},"layer":[
{"data":{"name":"crv"},"transform":[{"filter":"datum.p=='a' && datum.m=='BR'"}],"mark":{"type":"line","color":"#0000ff","strokeWidth":3,"clip":true},"encoding":{"x":{"field":"x","type":"quantitative","scale":{"domain":[0,3.5],"nice":false,"zero":false},"axis":{"orient":"bottom","values":[0,1,2,3],"format":"d","tickSize":-9,"labelPadding":20,"title":null,"labelFlush":false}},"y":{"field":"y","type":"quantitative","scale":{"domain":[0,3.5],"nice":false,"zero":false},"axis":{"orient":"left","values":[0,1,2,3],"format":"d","tickSize":-9,"labelPadding":16,"title":null}},"detail":{"field":"s","type":"nominal"}}},
{"data":{"name":"crv"},"transform":[{"filter":"datum.p=='a' && datum.m=='DQ'"}],"mark":{"type":"line","color":"#ff00ff","strokeWidth":3,"strokeDash":[6,4],"clip":true},"encoding":{"x":{"field":"x","type":"quantitative","axis":{"orient":"bottom","values":[0.2,0.4,0.6,0.8,1.2,1.4,1.6,1.8,2.2,2.4,2.6,2.8,3.2,3.4],"tickSize":-5,"labels":false,"title":null}},"y":{"field":"y","type":"quantitative","axis":{"orient":"left","values":[0.2,0.4,0.6,0.8,1.2,1.4,1.6,1.8,2.2,2.4,2.6,2.8,3.2,3.4],"tickSize":-5,"labels":false,"title":null}},"detail":{"field":"s","type":"nominal"}}},
{"data":{"name":"pts"},"transform":[{"filter":"datum.p=='a' && isValid(datum.ylo)"}],"mark":{"type":"rule","color":"black","strokeWidth":1,"clip":true},"encoding":{"x":{"field":"x","type":"quantitative","axis":null},"y":{"field":"ylo","type":"quantitative","axis":null},"y2":{"field":"yhi"}}},
{"data":{"name":"pts"},"transform":[{"filter":"datum.p=='a' && isValid(datum.ylo)"}],"mark":{"type":"tick","orient":"horizontal","size":6,"thickness":1,"color":"black","opacity":1,"clip":true},"encoding":{"x":{"field":"x","type":"quantitative","axis":null},"y":{"field":"ylo","type":"quantitative","axis":null}}},
{"data":{"name":"pts"},"transform":[{"filter":"datum.p=='a' && isValid(datum.yhi)"}],"mark":{"type":"tick","orient":"horizontal","size":6,"thickness":1,"color":"black","opacity":1,"clip":true},"encoding":{"x":{"field":"x","type":"quantitative","axis":null},"y":{"field":"yhi","type":"quantitative","axis":null}}},
{"data":{"name":"pts"},"transform":[{"filter":"datum.p=='a'"}],"mark":{"type":"point","shape":"circle","filled":true,"size":80,"stroke":"black","strokeWidth":1,"opacity":1,"clip":true},"encoding":{"x":{"field":"x","type":"quantitative","axis":null},"y":{"field":"y","type":"quantitative","axis":null},"fill":{"field":"s","type":"nominal","scale":{"domain":["pip","pim"],"range":["black","white"]},"legend":null}}},
{"data":{"values":[{"t":"30A GeV/c"}]},"mark":{"type":"text","align":"left","baseline":"middle","fontSize":23,"fontWeight":"bold","color":"black"},"encoding":{"x":{"datum":0.99,"type":"quantitative","axis":null},"y":{"datum":3.07,"type":"quantitative","axis":null},"text":{"field":"t"}}},
{"data":{"values":[{"t":"(a)"}]},"mark":{"type":"text","align":"left","baseline":"middle","fontSize":22,"fontWeight":"bold","color":"black"},"encoding":{"x":{"datum":0.14,"type":"quantitative","axis":null},"y":{"datum":0.2,"type":"quantitative","axis":null},"text":{"field":"t"}}},
{"data":{"values":[{"s":"pip"}]},"mark":{"type":"point","shape":"circle","filled":true,"size":80,"color":"black","opacity":1},"encoding":{"x":{"datum":0.33,"type":"quantitative","axis":null},"y":{"datum":0.99,"type":"quantitative","axis":null}}},
{"data":{"values":[{"t":"π⁺"}]},"mark":{"type":"text","align":"left","baseline":"alphabetic","fontSize":30,"color":"#0000ff"},"encoding":{"x":{"datum":0.45,"type":"quantitative","axis":null},"y":{"datum":0.83,"type":"quantitative","axis":null},"text":{"field":"t"}}}
]},
{"width":222,"height":338,"resolve":{"axis":{"x":"independent","y":"independent"}},"layer":[
{"data":{"name":"crv"},"transform":[{"filter":"datum.p=='b' && datum.m=='BR'"}],"mark":{"type":"line","color":"#0000ff","strokeWidth":3,"clip":true},"encoding":{"x":{"field":"x","type":"quantitative","scale":{"domain":[0,3.5],"nice":false,"zero":false},"axis":{"orient":"bottom","values":[0,1,2,3],"format":"d","tickSize":-9,"labelPadding":20,"title":null,"labelFlush":false}},"y":{"field":"y","type":"quantitative","scale":{"domain":[0,3.5],"nice":false,"zero":false},"axis":{"orient":"left","values":[0,1,2,3],"format":"d","tickSize":-9,"labelPadding":16,"title":null}},"detail":{"field":"s","type":"nominal"}}},
{"data":{"name":"crv"},"transform":[{"filter":"datum.p=='b' && datum.m=='DQ'"}],"mark":{"type":"line","color":"#ff00ff","strokeWidth":3,"strokeDash":[6,4],"clip":true},"encoding":{"x":{"field":"x","type":"quantitative","axis":{"orient":"bottom","values":[0.2,0.4,0.6,0.8,1.2,1.4,1.6,1.8,2.2,2.4,2.6,2.8,3.2,3.4],"tickSize":-5,"labels":false,"title":null}},"y":{"field":"y","type":"quantitative","axis":{"orient":"left","values":[0.2,0.4,0.6,0.8,1.2,1.4,1.6,1.8,2.2,2.4,2.6,2.8,3.2,3.4],"tickSize":-5,"labels":false,"title":null}},"detail":{"field":"s","type":"nominal"}}},
{"data":{"name":"pts"},"transform":[{"filter":"datum.p=='b' && isValid(datum.ylo)"}],"mark":{"type":"rule","color":"black","strokeWidth":1,"clip":true},"encoding":{"x":{"field":"x","type":"quantitative","axis":null},"y":{"field":"ylo","type":"quantitative","axis":null},"y2":{"field":"yhi"}}},
{"data":{"name":"pts"},"transform":[{"filter":"datum.p=='b' && isValid(datum.ylo)"}],"mark":{"type":"tick","orient":"horizontal","size":6,"thickness":1,"color":"black","opacity":1,"clip":true},"encoding":{"x":{"field":"x","type":"quantitative","axis":null},"y":{"field":"ylo","type":"quantitative","axis":null}}},
{"data":{"name":"pts"},"transform":[{"filter":"datum.p=='b' && isValid(datum.yhi)"}],"mark":{"type":"tick","orient":"horizontal","size":6,"thickness":1,"color":"black","opacity":1,"clip":true},"encoding":{"x":{"field":"x","type":"quantitative","axis":null},"y":{"field":"yhi","type":"quantitative","axis":null}}},
{"data":{"name":"pts"},"transform":[{"filter":"datum.p=='b'"}],"mark":{"type":"point","shape":"circle","filled":true,"size":80,"stroke":"black","strokeWidth":1,"opacity":1,"clip":true},"encoding":{"x":{"field":"x","type":"quantitative","axis":null},"y":{"field":"y","type":"quantitative","axis":null},"fill":{"field":"s","type":"nominal","scale":{"domain":["pip","pim"],"range":["black","white"]},"legend":null}}},
{"data":{"values":[{"t":"40A GeV/c"}]},"mark":{"type":"text","align":"left","baseline":"middle","fontSize":23,"fontWeight":"bold","color":"black"},"encoding":{"x":{"datum":0.99,"type":"quantitative","axis":null},"y":{"datum":3.07,"type":"quantitative","axis":null},"text":{"field":"t"}}},
{"data":{"values":[{"t":"(b)"}]},"mark":{"type":"text","align":"left","baseline":"middle","fontSize":22,"fontWeight":"bold","color":"black"},"encoding":{"x":{"datum":0.18,"type":"quantitative","axis":null},"y":{"datum":0.2,"type":"quantitative","axis":null},"text":{"field":"t"}}}
]},
{"width":222,"height":338,"resolve":{"axis":{"x":"independent","y":"independent"}},"layer":[
{"data":{"name":"crv"},"transform":[{"filter":"datum.p=='c' && datum.m=='BR'"}],"mark":{"type":"line","color":"#0000ff","strokeWidth":3,"clip":true},"encoding":{"x":{"field":"x","type":"quantitative","scale":{"domain":[0,3.5],"nice":false,"zero":false},"axis":{"orient":"bottom","values":[0,1,2,3],"format":"d","tickSize":-9,"labelPadding":20,"title":null,"labelFlush":false}},"y":{"field":"y","type":"quantitative","scale":{"domain":[0,3.5],"nice":false,"zero":false},"axis":{"orient":"left","values":[0,1,2,3],"format":"d","tickSize":-9,"labelPadding":16,"title":null}},"detail":{"field":"s","type":"nominal"}}},
{"data":{"name":"crv"},"transform":[{"filter":"datum.p=='c' && datum.m=='DQ'"}],"mark":{"type":"line","color":"#ff00ff","strokeWidth":3,"strokeDash":[6,4],"clip":true},"encoding":{"x":{"field":"x","type":"quantitative","axis":{"orient":"bottom","values":[0.2,0.4,0.6,0.8,1.2,1.4,1.6,1.8,2.2,2.4,2.6,2.8,3.2,3.4],"tickSize":-5,"labels":false,"title":null}},"y":{"field":"y","type":"quantitative","axis":{"orient":"left","values":[0.2,0.4,0.6,0.8,1.2,1.4,1.6,1.8,2.2,2.4,2.6,2.8,3.2,3.4],"tickSize":-5,"labels":false,"title":null}},"detail":{"field":"s","type":"nominal"}}},
{"data":{"name":"pts"},"transform":[{"filter":"datum.p=='c' && isValid(datum.ylo)"}],"mark":{"type":"rule","color":"black","strokeWidth":1,"clip":true},"encoding":{"x":{"field":"x","type":"quantitative","axis":null},"y":{"field":"ylo","type":"quantitative","axis":null},"y2":{"field":"yhi"}}},
{"data":{"name":"pts"},"transform":[{"filter":"datum.p=='c' && isValid(datum.ylo)"}],"mark":{"type":"tick","orient":"horizontal","size":6,"thickness":1,"color":"black","opacity":1,"clip":true},"encoding":{"x":{"field":"x","type":"quantitative","axis":null},"y":{"field":"ylo","type":"quantitative","axis":null}}},
{"data":{"name":"pts"},"transform":[{"filter":"datum.p=='c' && isValid(datum.yhi)"}],"mark":{"type":"tick","orient":"horizontal","size":6,"thickness":1,"color":"black","opacity":1,"clip":true},"encoding":{"x":{"field":"x","type":"quantitative","axis":null},"y":{"field":"yhi","type":"quantitative","axis":null}}},
{"data":{"name":"pts"},"transform":[{"filter":"datum.p=='c'"}],"mark":{"type":"point","shape":"circle","filled":true,"size":80,"stroke":"black","strokeWidth":1,"opacity":1,"clip":true},"encoding":{"x":{"field":"x","type":"quantitative","axis":null},"y":{"field":"y","type":"quantitative","axis":null},"fill":{"field":"s","type":"nominal","scale":{"domain":["pip","pim"],"range":["black","white"]},"legend":null}}},
{"data":{"values":[{"t":"75A GeV/c"}]},"mark":{"type":"text","align":"left","baseline":"middle","fontSize":23,"fontWeight":"bold","color":"black"},"encoding":{"x":{"datum":0.99,"type":"quantitative","axis":null},"y":{"datum":3.07,"type":"quantitative","axis":null},"text":{"field":"t"}}},
{"data":{"values":[{"t":"(c)"}]},"mark":{"type":"text","align":"left","baseline":"middle","fontSize":22,"fontWeight":"bold","color":"black"},"encoding":{"x":{"datum":0.16,"type":"quantitative","axis":null},"y":{"datum":0.2,"type":"quantitative","axis":null},"text":{"field":"t"}}}
]},
{"width":222,"height":338,"resolve":{"axis":{"x":"independent","y":"independent"}},
"title":{"text":"(0%-20%)⁷Be+⁹Be","orient":"right","anchor":"middle","frame":"group","fontSize":29,"fontWeight":"bold","color":"#0000ff","offset":8,"dx":8},
"layer":[
{"data":{"name":"crv"},"transform":[{"filter":"datum.p=='d' && datum.m=='BR'"}],"mark":{"type":"line","color":"#0000ff","strokeWidth":3,"clip":true},"encoding":{"x":{"field":"x","type":"quantitative","scale":{"domain":[0,3.5],"nice":false,"zero":false},"axis":{"orient":"bottom","values":[0,1,2,3],"format":"d","tickSize":-9,"labelPadding":20,"title":null,"labelFlush":false}},"y":{"field":"y","type":"quantitative","scale":{"domain":[0,3.5],"nice":false,"zero":false},"axis":{"orient":"left","values":[0,1,2,3],"format":"d","tickSize":-9,"labelPadding":16,"title":null}},"detail":{"field":"s","type":"nominal"}}},
{"data":{"name":"crv"},"transform":[{"filter":"datum.p=='d' && datum.m=='DQ'"}],"mark":{"type":"line","color":"#ff00ff","strokeWidth":3,"strokeDash":[6,4],"clip":true},"encoding":{"x":{"field":"x","type":"quantitative","axis":{"orient":"bottom","values":[0.2,0.4,0.6,0.8,1.2,1.4,1.6,1.8,2.2,2.4,2.6,2.8,3.2,3.4],"tickSize":-5,"labels":false,"title":null}},"y":{"field":"y","type":"quantitative","axis":{"orient":"left","values":[0.2,0.4,0.6,0.8,1.2,1.4,1.6,1.8,2.2,2.4,2.6,2.8,3.2,3.4],"tickSize":-5,"labels":false,"title":null}},"detail":{"field":"s","type":"nominal"}}},
{"data":{"name":"pts"},"transform":[{"filter":"datum.p=='d' && isValid(datum.ylo)"}],"mark":{"type":"rule","color":"black","strokeWidth":1,"clip":true},"encoding":{"x":{"field":"x","type":"quantitative","axis":null},"y":{"field":"ylo","type":"quantitative","axis":null},"y2":{"field":"yhi"}}},
{"data":{"name":"pts"},"transform":[{"filter":"datum.p=='d' && isValid(datum.ylo)"}],"mark":{"type":"tick","orient":"horizontal","size":6,"thickness":1,"color":"black","opacity":1,"clip":true},"encoding":{"x":{"field":"x","type":"quantitative","axis":null},"y":{"field":"ylo","type":"quantitative","axis":null}}},
{"data":{"name":"pts"},"transform":[{"filter":"datum.p=='d' && isValid(datum.yhi)"}],"mark":{"type":"tick","orient":"horizontal","size":6,"thickness":1,"color":"black","opacity":1,"clip":true},"encoding":{"x":{"field":"x","type":"quantitative","axis":null},"y":{"field":"yhi","type":"quantitative","axis":null}}},
{"data":{"name":"pts"},"transform":[{"filter":"datum.p=='d'"}],"mark":{"type":"point","shape":"circle","filled":true,"size":80,"stroke":"black","strokeWidth":1,"opacity":1,"clip":true},"encoding":{"x":{"field":"x","type":"quantitative","axis":null},"y":{"field":"y","type":"quantitative","axis":null},"fill":{"field":"s","type":"nominal","scale":{"domain":["pip","pim"],"range":["black","white"]},"legend":null}}},
{"data":{"values":[{"t":"150A GeV/c"}]},"mark":{"type":"text","align":"left","baseline":"middle","fontSize":23,"fontWeight":"bold","color":"black"},"encoding":{"x":{"datum":1.02,"type":"quantitative","axis":null},"y":{"datum":3.07,"type":"quantitative","axis":null},"text":{"field":"t"}}},
{"data":{"values":[{"t":"(d)"}]},"mark":{"type":"text","align":"left","baseline":"middle","fontSize":22,"fontWeight":"bold","color":"black"},"encoding":{"x":{"datum":0.13,"type":"quantitative","axis":null},"y":{"datum":0.2,"type":"quantitative","axis":null},"text":{"field":"t"}}}
]},
{"width":222,"height":338,"resolve":{"axis":{"x":"independent","y":"independent"}},"layer":[
{"data":{"name":"crv"},"transform":[{"filter":"datum.p=='e' && datum.m=='BR'"}],"mark":{"type":"line","color":"#0000ff","strokeWidth":3,"clip":true},"encoding":{"x":{"field":"x","type":"quantitative","scale":{"domain":[0,3.2],"nice":false,"zero":false},"axis":{"orient":"bottom","values":[0,1,2,3],"format":"d","tickSize":-9,"labelPadding":20,"title":null,"labelFlush":false}},"y":{"field":"y","type":"quantitative","scale":{"domain":[0.01,1.6],"nice":false,"zero":false},"axis":{"orient":"left","values":[0.5,1,1.5],"format":"~g","tickSize":-9,"labelPadding":16,"title":null}},"detail":{"field":"s","type":"nominal"}}},
{"data":{"name":"crv"},"transform":[{"filter":"datum.p=='e' && datum.m=='DQ'"}],"mark":{"type":"line","color":"#ff00ff","strokeWidth":3,"strokeDash":[6,4],"clip":true},"encoding":{"x":{"field":"x","type":"quantitative","axis":{"orient":"bottom","values":[0.2,0.4,0.6,0.8,1.2,1.4,1.6,1.8,2.2,2.4,2.6,2.8],"tickSize":-5,"labels":false,"title":null}},"y":{"field":"y","type":"quantitative","axis":{"orient":"left","values":[0.1,0.2,0.3,0.4,0.6,0.7,0.8,0.9,1.1,1.2,1.3,1.4],"tickSize":-5,"labels":false,"title":null}},"detail":{"field":"s","type":"nominal"}}},
{"data":{"name":"pts"},"transform":[{"filter":"datum.p=='e'"}],"mark":{"type":"rule","color":"black","strokeWidth":1,"clip":true},"encoding":{"x":{"field":"xlo","type":"quantitative","axis":null},"x2":{"field":"xhi"},"y":{"field":"y","type":"quantitative","axis":null}}},
{"data":{"name":"pts"},"transform":[{"filter":"datum.p=='e'"}],"mark":{"type":"tick","orient":"vertical","size":6,"thickness":1,"color":"black","opacity":1,"clip":true},"encoding":{"x":{"field":"xlo","type":"quantitative","axis":null},"y":{"field":"y","type":"quantitative","axis":null}}},
{"data":{"name":"pts"},"transform":[{"filter":"datum.p=='e'"}],"mark":{"type":"tick","orient":"vertical","size":6,"thickness":1,"color":"black","opacity":1,"clip":true},"encoding":{"x":{"field":"xhi","type":"quantitative","axis":null},"y":{"field":"y","type":"quantitative","axis":null}}},
{"data":{"name":"pts"},"transform":[{"filter":"datum.p=='e' && isValid(datum.ylo)"}],"mark":{"type":"rule","color":"black","strokeWidth":1,"clip":true},"encoding":{"x":{"field":"x","type":"quantitative","axis":null},"y":{"field":"ylo","type":"quantitative","axis":null},"y2":{"field":"yhi"}}},
{"data":{"name":"pts"},"transform":[{"filter":"datum.p=='e' && isValid(datum.ylo)"}],"mark":{"type":"tick","orient":"horizontal","size":6,"thickness":1,"color":"black","opacity":1,"clip":true},"encoding":{"x":{"field":"x","type":"quantitative","axis":null},"y":{"field":"ylo","type":"quantitative","axis":null}}},
{"data":{"name":"pts"},"transform":[{"filter":"datum.p=='e' && isValid(datum.yhi)"}],"mark":{"type":"tick","orient":"horizontal","size":6,"thickness":1,"color":"black","opacity":1,"clip":true},"encoding":{"x":{"field":"x","type":"quantitative","axis":null},"y":{"field":"yhi","type":"quantitative","axis":null}}},
{"data":{"name":"pts"},"transform":[{"filter":"datum.p=='e'"}],"mark":{"type":"point","shape":"circle","filled":true,"size":80,"stroke":"black","strokeWidth":1,"opacity":1,"clip":true},"encoding":{"x":{"field":"x","type":"quantitative","axis":null},"y":{"field":"y","type":"quantitative","axis":null},"fill":{"field":"s","type":"nominal","scale":{"domain":["pip","pim"],"range":["black","white"]},"legend":null}}},
{"data":{"values":[{"t":"31 GeV/c"}]},"mark":{"type":"text","align":"left","baseline":"middle","fontSize":23,"fontWeight":"bold","color":"black"},"encoding":{"x":{"datum":0.8,"type":"quantitative","axis":null},"y":{"datum":1.44,"type":"quantitative","axis":null},"text":{"field":"t"}}},
{"data":{"values":[{"t":"(e)"}]},"mark":{"type":"text","align":"left","baseline":"middle","fontSize":22,"fontWeight":"bold","color":"black"},"encoding":{"x":{"datum":0.11,"type":"quantitative","axis":null},"y":{"datum":0.11,"type":"quantitative","axis":null},"text":{"field":"t"}}},
{"data":{"values":[{"s":"pip","lx":0.84,"ly":1.241},{"s":"pim","lx":0.86,"ly":1.063}]},"mark":{"type":"point","shape":"circle","filled":true,"size":80,"stroke":"black","strokeWidth":1,"opacity":1},"encoding":{"x":{"field":"lx","type":"quantitative","axis":null},"y":{"field":"ly","type":"quantitative","axis":null},"fill":{"field":"s","type":"nominal","scale":{"domain":["pip","pim"],"range":["black","white"]},"legend":null}}},
{"data":{"values":[{"t":"π⁺ (× 1.5)"}]},"mark":{"type":"text","align":"left","baseline":"middle","fontSize":23,"fontWeight":"bold","color":"#0000ff"},"encoding":{"x":{"datum":0.91,"type":"quantitative","axis":null},"y":{"datum":1.24,"type":"quantitative","axis":null},"text":{"field":"t"}}},
{"data":{"values":[{"t":"π⁻"}]},"mark":{"type":"text","align":"left","baseline":"middle","fontSize":23,"fontWeight":"bold","color":"#0000ff"},"encoding":{"x":{"datum":0.93,"type":"quantitative","axis":null},"y":{"datum":1.063,"type":"quantitative","axis":null},"text":{"field":"t"}}}
]},
{"width":222,"height":338,"resolve":{"axis":{"x":"independent","y":"independent"}},"layer":[
{"data":{"name":"crv"},"transform":[{"filter":"datum.p=='f' && datum.m=='BR'"}],"mark":{"type":"line","color":"#0000ff","strokeWidth":3,"clip":true},"encoding":{"x":{"field":"x","type":"quantitative","scale":{"domain":[0,3.2],"nice":false,"zero":false},"axis":{"orient":"bottom","values":[0,1,2,3],"format":"d","tickSize":-9,"labelPadding":20,"title":null,"labelFlush":false}},"y":{"field":"y","type":"quantitative","scale":{"domain":[0.01,1.6],"nice":false,"zero":false},"axis":{"orient":"left","values":[0.5,1,1.5],"format":"~g","tickSize":-9,"labelPadding":16,"title":null}},"detail":{"field":"s","type":"nominal"}}},
{"data":{"name":"crv"},"transform":[{"filter":"datum.p=='f' && datum.m=='DQ'"}],"mark":{"type":"line","color":"#ff00ff","strokeWidth":3,"strokeDash":[6,4],"clip":true},"encoding":{"x":{"field":"x","type":"quantitative","axis":{"orient":"bottom","values":[0.2,0.4,0.6,0.8,1.2,1.4,1.6,1.8,2.2,2.4,2.6,2.8],"tickSize":-5,"labels":false,"title":null}},"y":{"field":"y","type":"quantitative","axis":{"orient":"left","values":[0.1,0.2,0.3,0.4,0.6,0.7,0.8,0.9,1.1,1.2,1.3,1.4],"tickSize":-5,"labels":false,"title":null}},"detail":{"field":"s","type":"nominal"}}},
{"data":{"name":"pts"},"transform":[{"filter":"datum.p=='f'"}],"mark":{"type":"rule","color":"black","strokeWidth":1,"clip":true},"encoding":{"x":{"field":"xlo","type":"quantitative","axis":null},"x2":{"field":"xhi"},"y":{"field":"y","type":"quantitative","axis":null}}},
{"data":{"name":"pts"},"transform":[{"filter":"datum.p=='f'"}],"mark":{"type":"tick","orient":"vertical","size":6,"thickness":1,"color":"black","opacity":1,"clip":true},"encoding":{"x":{"field":"xlo","type":"quantitative","axis":null},"y":{"field":"y","type":"quantitative","axis":null}}},
{"data":{"name":"pts"},"transform":[{"filter":"datum.p=='f'"}],"mark":{"type":"tick","orient":"vertical","size":6,"thickness":1,"color":"black","opacity":1,"clip":true},"encoding":{"x":{"field":"xhi","type":"quantitative","axis":null},"y":{"field":"y","type":"quantitative","axis":null}}},
{"data":{"name":"pts"},"transform":[{"filter":"datum.p=='f' && isValid(datum.ylo)"}],"mark":{"type":"rule","color":"black","strokeWidth":1,"clip":true},"encoding":{"x":{"field":"x","type":"quantitative","axis":null},"y":{"field":"ylo","type":"quantitative","axis":null},"y2":{"field":"yhi"}}},
{"data":{"name":"pts"},"transform":[{"filter":"datum.p=='f' && isValid(datum.ylo)"}],"mark":{"type":"tick","orient":"horizontal","size":6,"thickness":1,"color":"black","opacity":1,"clip":true},"encoding":{"x":{"field":"x","type":"quantitative","axis":null},"y":{"field":"ylo","type":"quantitative","axis":null}}},
{"data":{"name":"pts"},"transform":[{"filter":"datum.p=='f' && isValid(datum.yhi)"}],"mark":{"type":"tick","orient":"horizontal","size":6,"thickness":1,"color":"black","opacity":1,"clip":true},"encoding":{"x":{"field":"x","type":"quantitative","axis":null},"y":{"field":"yhi","type":"quantitative","axis":null}}},
{"data":{"name":"pts"},"transform":[{"filter":"datum.p=='f'"}],"mark":{"type":"point","shape":"circle","filled":true,"size":80,"stroke":"black","strokeWidth":1,"opacity":1,"clip":true},"encoding":{"x":{"field":"x","type":"quantitative","axis":null},"y":{"field":"y","type":"quantitative","axis":null},"fill":{"field":"s","type":"nominal","scale":{"domain":["pip","pim"],"range":["black","white"]},"legend":null}}},
{"data":{"values":[{"t":"40 GeV/c"}]},"mark":{"type":"text","align":"left","baseline":"middle","fontSize":23,"fontWeight":"bold","color":"black"},"encoding":{"x":{"datum":0.81,"type":"quantitative","axis":null},"y":{"datum":1.44,"type":"quantitative","axis":null},"text":{"field":"t"}}},
{"data":{"values":[{"t":"(f)"}]},"mark":{"type":"text","align":"left","baseline":"middle","fontSize":22,"fontWeight":"bold","color":"black"},"encoding":{"x":{"datum":0.16,"type":"quantitative","axis":null},"y":{"datum":0.11,"type":"quantitative","axis":null},"text":{"field":"t"}}}
]},
{"width":222,"height":338,"resolve":{"axis":{"x":"independent","y":"independent"}},"layer":[
{"data":{"name":"crv"},"transform":[{"filter":"datum.p=='g' && datum.m=='BR'"}],"mark":{"type":"line","color":"#0000ff","strokeWidth":3,"clip":true},"encoding":{"x":{"field":"x","type":"quantitative","scale":{"domain":[0,3.2],"nice":false,"zero":false},"axis":{"orient":"bottom","values":[0,1,2,3],"format":"d","tickSize":-9,"labelPadding":20,"title":null,"labelFlush":false}},"y":{"field":"y","type":"quantitative","scale":{"domain":[0.01,1.6],"nice":false,"zero":false},"axis":{"orient":"left","values":[0.5,1,1.5],"format":"~g","tickSize":-9,"labelPadding":16,"title":null}},"detail":{"field":"s","type":"nominal"}}},
{"data":{"name":"crv"},"transform":[{"filter":"datum.p=='g' && datum.m=='DQ'"}],"mark":{"type":"line","color":"#ff00ff","strokeWidth":3,"strokeDash":[6,4],"clip":true},"encoding":{"x":{"field":"x","type":"quantitative","axis":{"orient":"bottom","values":[0.2,0.4,0.6,0.8,1.2,1.4,1.6,1.8,2.2,2.4,2.6,2.8],"tickSize":-5,"labels":false,"title":null}},"y":{"field":"y","type":"quantitative","axis":{"orient":"left","values":[0.1,0.2,0.3,0.4,0.6,0.7,0.8,0.9,1.1,1.2,1.3,1.4],"tickSize":-5,"labels":false,"title":null}},"detail":{"field":"s","type":"nominal"}}},
{"data":{"name":"pts"},"transform":[{"filter":"datum.p=='g'"}],"mark":{"type":"rule","color":"black","strokeWidth":1,"clip":true},"encoding":{"x":{"field":"xlo","type":"quantitative","axis":null},"x2":{"field":"xhi"},"y":{"field":"y","type":"quantitative","axis":null}}},
{"data":{"name":"pts"},"transform":[{"filter":"datum.p=='g'"}],"mark":{"type":"tick","orient":"vertical","size":6,"thickness":1,"color":"black","opacity":1,"clip":true},"encoding":{"x":{"field":"xlo","type":"quantitative","axis":null},"y":{"field":"y","type":"quantitative","axis":null}}},
{"data":{"name":"pts"},"transform":[{"filter":"datum.p=='g'"}],"mark":{"type":"tick","orient":"vertical","size":6,"thickness":1,"color":"black","opacity":1,"clip":true},"encoding":{"x":{"field":"xhi","type":"quantitative","axis":null},"y":{"field":"y","type":"quantitative","axis":null}}},
{"data":{"name":"pts"},"transform":[{"filter":"datum.p=='g' && isValid(datum.ylo)"}],"mark":{"type":"rule","color":"black","strokeWidth":1,"clip":true},"encoding":{"x":{"field":"x","type":"quantitative","axis":null},"y":{"field":"ylo","type":"quantitative","axis":null},"y2":{"field":"yhi"}}},
{"data":{"name":"pts"},"transform":[{"filter":"datum.p=='g' && isValid(datum.ylo)"}],"mark":{"type":"tick","orient":"horizontal","size":6,"thickness":1,"color":"black","opacity":1,"clip":true},"encoding":{"x":{"field":"x","type":"quantitative","axis":null},"y":{"field":"ylo","type":"quantitative","axis":null}}},
{"data":{"name":"pts"},"transform":[{"filter":"datum.p=='g' && isValid(datum.yhi)"}],"mark":{"type":"tick","orient":"horizontal","size":6,"thickness":1,"color":"black","opacity":1,"clip":true},"encoding":{"x":{"field":"x","type":"quantitative","axis":null},"y":{"field":"yhi","type":"quantitative","axis":null}}},
{"data":{"name":"pts"},"transform":[{"filter":"datum.p=='g'"}],"mark":{"type":"point","shape":"circle","filled":true,"size":80,"stroke":"black","strokeWidth":1,"opacity":1,"clip":true},"encoding":{"x":{"field":"x","type":"quantitative","axis":null},"y":{"field":"y","type":"quantitative","axis":null},"fill":{"field":"s","type":"nominal","scale":{"domain":["pip","pim"],"range":["black","white"]},"legend":null}}},
{"data":{"values":[{"t":"80 GeV/c"}]},"mark":{"type":"text","align":"left","baseline":"middle","fontSize":23,"fontWeight":"bold","color":"black"},"encoding":{"x":{"datum":0.81,"type":"quantitative","axis":null},"y":{"datum":1.44,"type":"quantitative","axis":null},"text":{"field":"t"}}},
{"data":{"values":[{"t":"(g)"}]},"mark":{"type":"text","align":"left","baseline":"middle","fontSize":22,"fontWeight":"bold","color":"black"},"encoding":{"x":{"datum":0.13,"type":"quantitative","axis":null},"y":{"datum":0.11,"type":"quantitative","axis":null},"text":{"field":"t"}}}
]},
{"width":222,"height":338,"resolve":{"axis":{"x":"independent","y":"independent"}},
"title":{"text":"p+p","orient":"right","anchor":"middle","frame":"group","fontSize":29,"fontWeight":"bold","color":"#0000ff","offset":8,"dx":-21},
"layer":[
{"data":{"name":"crv"},"transform":[{"filter":"datum.p=='h' && datum.m=='BR'"}],"mark":{"type":"line","color":"#0000ff","strokeWidth":3,"clip":true},"encoding":{"x":{"field":"x","type":"quantitative","scale":{"domain":[0,3.2],"nice":false,"zero":false},"axis":{"orient":"bottom","values":[0,1,2,3],"format":"d","tickSize":-9,"labelPadding":20,"title":"y","titleFontSize":38,"titleFontWeight":"bold","titleColor":"black","titleX":190,"titleY":77,"titleAlign":"center","titleBaseline":"alphabetic","labelFlush":false}},"y":{"field":"y","type":"quantitative","scale":{"domain":[0.01,1.6],"nice":false,"zero":false},"axis":{"orient":"left","values":[0.5,1,1.5],"format":"~g","tickSize":-9,"labelPadding":16,"title":null}},"detail":{"field":"s","type":"nominal"}}},
{"data":{"name":"crv"},"transform":[{"filter":"datum.p=='h' && datum.m=='DQ'"}],"mark":{"type":"line","color":"#ff00ff","strokeWidth":3,"strokeDash":[6,4],"clip":true},"encoding":{"x":{"field":"x","type":"quantitative","axis":{"orient":"bottom","values":[0.2,0.4,0.6,0.8,1.2,1.4,1.6,1.8,2.2,2.4,2.6,2.8],"tickSize":-5,"labels":false,"title":null}},"y":{"field":"y","type":"quantitative","axis":{"orient":"left","values":[0.1,0.2,0.3,0.4,0.6,0.7,0.8,0.9,1.1,1.2,1.3,1.4],"tickSize":-5,"labels":false,"title":null}},"detail":{"field":"s","type":"nominal"}}},
{"data":{"name":"pts"},"transform":[{"filter":"datum.p=='h'"}],"mark":{"type":"rule","color":"black","strokeWidth":1,"clip":true},"encoding":{"x":{"field":"xlo","type":"quantitative","axis":null},"x2":{"field":"xhi"},"y":{"field":"y","type":"quantitative","axis":null}}},
{"data":{"name":"pts"},"transform":[{"filter":"datum.p=='h'"}],"mark":{"type":"tick","orient":"vertical","size":6,"thickness":1,"color":"black","opacity":1,"clip":true},"encoding":{"x":{"field":"xlo","type":"quantitative","axis":null},"y":{"field":"y","type":"quantitative","axis":null}}},
{"data":{"name":"pts"},"transform":[{"filter":"datum.p=='h'"}],"mark":{"type":"tick","orient":"vertical","size":6,"thickness":1,"color":"black","opacity":1,"clip":true},"encoding":{"x":{"field":"xhi","type":"quantitative","axis":null},"y":{"field":"y","type":"quantitative","axis":null}}},
{"data":{"name":"pts"},"transform":[{"filter":"datum.p=='h' && isValid(datum.ylo)"}],"mark":{"type":"rule","color":"black","strokeWidth":1,"clip":true},"encoding":{"x":{"field":"x","type":"quantitative","axis":null},"y":{"field":"ylo","type":"quantitative","axis":null},"y2":{"field":"yhi"}}},
{"data":{"name":"pts"},"transform":[{"filter":"datum.p=='h' && isValid(datum.ylo)"}],"mark":{"type":"tick","orient":"horizontal","size":6,"thickness":1,"color":"black","opacity":1,"clip":true},"encoding":{"x":{"field":"x","type":"quantitative","axis":null},"y":{"field":"ylo","type":"quantitative","axis":null}}},
{"data":{"name":"pts"},"transform":[{"filter":"datum.p=='h' && isValid(datum.yhi)"}],"mark":{"type":"tick","orient":"horizontal","size":6,"thickness":1,"color":"black","opacity":1,"clip":true},"encoding":{"x":{"field":"x","type":"quantitative","axis":null},"y":{"field":"yhi","type":"quantitative","axis":null}}},
{"data":{"name":"pts"},"transform":[{"filter":"datum.p=='h'"}],"mark":{"type":"point","shape":"circle","filled":true,"size":80,"stroke":"black","strokeWidth":1,"opacity":1,"clip":true},"encoding":{"x":{"field":"x","type":"quantitative","axis":null},"y":{"field":"y","type":"quantitative","axis":null},"fill":{"field":"s","type":"nominal","scale":{"domain":["pip","pim"],"range":["black","white"]},"legend":null}}},
{"data":{"values":[{"t":"158 GeV/c"}]},"mark":{"type":"text","align":"left","baseline":"middle","fontSize":23,"fontWeight":"bold","color":"black"},"encoding":{"x":{"datum":0.82,"type":"quantitative","axis":null},"y":{"datum":1.44,"type":"quantitative","axis":null},"text":{"field":"t"}}},
{"data":{"values":[{"t":"(h)"}]},"mark":{"type":"text","align":"left","baseline":"middle","fontSize":22,"fontWeight":"bold","color":"black"},"encoding":{"x":{"datum":0.12,"type":"quantitative","axis":null},"y":{"datum":0.11,"type":"quantitative","axis":null},"text":{"field":"t"}}},
{"data":{"values":[{"t":"DQ"}]},"mark":{"type":"rule","color":"#ff00ff","strokeWidth":3,"strokeDash":[6,4]},"encoding":{"x":{"datum":1.3,"type":"quantitative","axis":null},"x2":{"datum":1.55},"y":{"datum":1.185,"type":"quantitative","axis":null}}},
{"data":{"values":[{"t":"BRDF/AA"}]},"mark":{"type":"rule","color":"#0000ff","strokeWidth":3},"encoding":{"x":{"datum":1.32,"type":"quantitative","axis":null},"x2":{"datum":1.55},"y":{"datum":1.082,"type":"quantitative","axis":null}}},
{"data":{"values":[{"t":"DQ","ly":1.185},{"t":"BRDF/AA","ly":1.082}]},"mark":{"type":"text","align":"left","baseline":"middle","fontSize":20,"fontWeight":"bold","color":"#0000ff"},"encoding":{"x":{"datum":1.63,"type":"quantitative","axis":null},"y":{"field":"ly","type":"quantitative","axis":null},"text":{"field":"t"}}}
]}
],
"config":{"font":"Liberation Sans","view":{"stroke":"black","strokeWidth":1.5},"axis":{"labelFont":"Liberation Sans","labelFontSize":22,"labelColor":"black","tickColor":"black","tickWidth":1,"domain":false,"grid":false,"titleFont":"Liberation Sans"},"text":{"font":"Liberation Sans"},"title":{"font":"Liberation Sans"}}
}
